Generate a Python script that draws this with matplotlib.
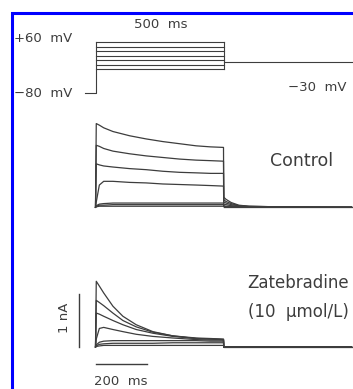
import numpy as np
import matplotlib
matplotlib.use("Agg")
import matplotlib.pyplot as plt
from matplotlib.patches import Rectangle

# --- voltage protocol (mV) ---
hold_mv = -80
step_mv = [-60, -40, -20, 0, 20, 40, 60]
tail_mv = -30
step_ms = 500

# --- currents (nA) ---
ctrl_t = [0, 3, 15, 32, 68, 133, 198, 263, 328, 393, 450, 500,
          501, 510, 530, 560, 600, 700, 1000]
ctrl = [
    [0, 1.58, 1.55, 1.50, 1.43, 1.35, 1.29, 1.24, 1.20, 1.16, 1.14, 1.13,
     0.19, 0.15, 0.09, 0.04, 0.02, 0.01, 0.0],
    [0, 1.17, 1.15, 1.11, 1.06, 1.01, 0.97, 0.94, 0.91, 0.89, 0.88, 0.87,
     0.14, 0.11, 0.07, 0.03, 0.02, 0.01, 0.0],
    [0, 0.82, 0.80, 0.78, 0.76, 0.73, 0.71, 0.68, 0.66, 0.65, 0.64, 0.64,
     0.10, 0.08, 0.05, 0.03, 0.01, 0.0, 0.0],
    [0, 0.10, 0.42, 0.49, 0.49, 0.47, 0.46, 0.44, 0.43, 0.42, 0.41, 0.40,
     0.06, 0.05, 0.03, 0.02, 0.01, 0.0, 0.0],
    [0, 0.03, 0.06, 0.07, 0.08, 0.08, 0.08, 0.08, 0.08, 0.08, 0.08, 0.08,
     0.03, 0.02, 0.02, 0.01, 0.0, 0.0, 0.0],
    [0, 0.02, 0.04, 0.04, 0.05, 0.05, 0.05, 0.05, 0.05, 0.05, 0.05, 0.05,
     0.02, 0.01, 0.01, 0.0, 0.0, 0.0, 0.0],
    [0, 0.01, 0.02, 0.02, 0.02, 0.02, 0.02, 0.02, 0.02, 0.02, 0.02, 0.02,
     0.01, 0.0, 0.0, 0.0, 0.0, 0.0, 0.0],
]

zat_t = [0, 3, 15, 32, 68, 107, 159, 224, 302, 393, 450, 500, 501, 1000]
zat = [
    [0, 1.24, 1.15, 1.02, 0.77, 0.58, 0.42, 0.29, 0.21, 0.16, 0.15, 0.14, 0, 0],
    [0, 0.88, 0.84, 0.78, 0.64, 0.50, 0.38, 0.28, 0.21, 0.17, 0.16, 0.15, 0, 0],
    [0, 0.64, 0.62, 0.58, 0.50, 0.42, 0.33, 0.26, 0.20, 0.16, 0.15, 0.14, 0, 0],
    [0, 0.15, 0.35, 0.37, 0.33, 0.29, 0.24, 0.20, 0.17, 0.14, 0.13, 0.13, 0, 0],
    [0, 0.04, 0.09, 0.11, 0.12, 0.12, 0.12, 0.12, 0.12, 0.12, 0.11, 0.11, 0, 0],
    [0, 0.02, 0.05, 0.06, 0.07, 0.07, 0.07, 0.07, 0.08, 0.08, 0.08, 0.08, 0, 0],
    [0, 0.01, 0.02, 0.03, 0.03, 0.03, 0.03, 0.03, 0.03, 0.03, 0.03, 0.03, 0, 0],
]

bar_ms = 200
bar_na = 1

W, H = 353, 389
ink = "#3d3d3d"
plt.rcParams["font.family"] = ["DejaVu Sans"]

fig = plt.figure(figsize=(W / 100, H / 100), dpi=100)

# time axis: t=0 at x=95.5 px, 0.256 px per ms
x0, pxms = 95.5, 0.256
t_lo, t_hi = -70, (W - x0) / pxms


def add_axes(top_px, bot_px):
    left = x0 + t_lo * pxms
    ax = fig.add_axes([left / W, 1 - bot_px / H, (W - left) / W, (bot_px - top_px) / H])
    ax.set_xlim(t_lo, t_hi)
    ax.axis("off")
    return ax


def ftext(x, y, s, **kw):
    fig.text(x / W, 1 - y / H, s, color=ink, **kw)


# protocol, drawn schematically (box is compressed relative to holding level)
mv_pts = [-120, -80, -60, 60, 100]
un_pts = [-40, 0, 24, 51.3, 60.4]
fwd = lambda v: np.interp(v, mv_pts, un_pts)
inv = lambda u: np.interp(u, un_pts, mv_pts)

axp = add_axes(93.3 - 55.85, 93.3 + 20)
axp.set_yscale("function", functions=(fwd, inv))
axp.set_ylim(-100, 80)
lw_p = 0.8
axp.plot([-40, 0, 0], [hold_mv, hold_mv, max(step_mv)], color=ink, lw=lw_p)
for v in step_mv:
    axp.plot([0, step_ms], [v, v], color=ink, lw=lw_p)
axp.plot([step_ms, step_ms], [min(step_mv), max(step_mv)], color=ink, lw=lw_p)
axp.plot([step_ms, t_hi], [tail_mv, tail_mv], color=ink, lw=lw_p)

# control currents: baseline at 207.3 px, 53 px per nA
pxna = 53
axc = add_axes(207.3 - 1.8 * pxna, 207.3 + 0.3 * pxna)
axc.set_ylim(-0.3, 1.8)
for tr in ctrl:
    axc.plot(ctrl_t, tr, color=ink, lw=0.9)
axc.plot([step_ms, t_hi], [0, 0], color=ink, lw=0.9)

# zatebradine currents: baseline at 347 px
axz = add_axes(347 - 1.5 * pxna, 347 + 0.8 * pxna)
axz.set_ylim(-0.8, 1.5)
for tr in zat:
    axz.plot(zat_t, tr, color=ink, lw=0.9)
axz.plot([step_ms, t_hi], [0, 0], color=ink, lw=0.9)

# scale bars
axz.plot([-64, -64], [0, bar_na], color=ink, lw=1.0, clip_on=False)
axz.plot([0, bar_ms], [-0.32, -0.32], color=ink, lw=1.0, clip_on=False)
axz.text(-123, 0.55, "1 nA", rotation=90, ha="center", va="center",
         fontsize=9.5, color=ink)
axz.text(bar_ms / 2, -0.66, "200  ms", ha="center", va="center",
         fontsize=9.5, color=ink)

# labels
ftext(161, 24, "500  ms", ha="center", va="center", fontsize=9.5)
ftext(14, 38, "+60  mV", ha="left", va="center", fontsize=9.5)
ftext(14, 93.3, "\u221280  mV", ha="left", va="center", fontsize=9.5)
ftext(347, 87.7, "\u221230  mV", ha="right", va="center", fontsize=9.5)
ftext(301.5, 161, "Control", ha="center", va="center", fontsize=12.5)
ftext(298, 283.3, "Zatebradine", ha="center", va="center", fontsize=12)
ftext(298, 311.7, "(10  \u03bcmol/L)", ha="center", va="center", fontsize=12)

# blue frame (right and bottom edges run off the picture)
fig.patches.append(Rectangle((11.5 / W, -0.1), 1.2, 1.1 - 13.5 / H + 0.0,
                             transform=fig.transFigure, fill=False,
                             edgecolor="#0000ff", lw=2.2))

fig.savefig("out.png", dpi=100)
